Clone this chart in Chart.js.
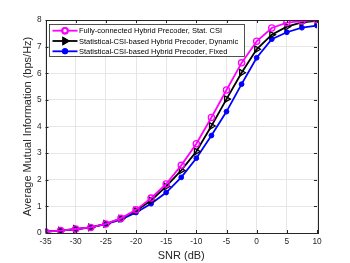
<!DOCTYPE html>
<html>
<head>
<meta charset="utf-8">
<script src="https://cdn.jsdelivr.net/npm/chart.js@4.4.1/dist/chart.umd.min.js"></script>
<style>
  html, body { margin: 0; padding: 0; background: #fff; }
  #myChart { display: block; }
</style>
</head>
<body>
<canvas id="myChart" width="350" height="263"></canvas>
<script>
const snr = [-35, -32.5, -30, -27.5, -25, -22.5, -20, -17.5, -15, -12.5, -10, -7.5, -5, -2.5, 0, 2.5, 5, 7.5, 10];
const fullyConnected = [0.05, 0.09, 0.15, 0.21, 0.34, 0.55, 0.87, 1.31, 1.84, 2.54, 3.35, 4.34, 5.37, 6.39, 7.20, 7.70, 7.90, 7.96, 8.00];
const statDynamic = [0.05, 0.09, 0.15, 0.21, 0.34, 0.54, 0.84, 1.22, 1.75, 2.35, 3.06, 4.02, 5.03, 6.02, 6.90, 7.45, 7.75, 7.91, 7.97];
const statFixed = [0.05, 0.09, 0.14, 0.21, 0.33, 0.50, 0.77, 1.10, 1.52, 2.09, 2.81, 3.66, 4.56, 5.59, 6.58, 7.28, 7.54, 7.71, 7.79];
const seriesLabels = [
    'Fully-connected Hybrid Precoder, Stat. CSI',
    'Statistical-CSI-based Hybrid Precoder, Dynamic',
    'Statistical-CSI-based Hybrid Precoder, Fixed'
];
const xTicks = [-35, -30, -25, -20, -15, -10, -5, 0, 5, 10];
const yTicks = [0, 1, 2, 3, 4, 5, 6, 7, 8];

const axisColor = '#262626';
const fontFamily = 'Liberation Sans, Arial, sans-serif';

function toPoints(values) {
    return snr.map((x, i) => ({ x: x, y: values[i] }));
}

// box around the axes + inward ticks, matlab style
const boxPlugin = {
    id: 'box',
    afterDraw(chart) {
        const ctx = chart.ctx;
        const a = chart.chartArea;
        const xs = chart.scales.x;
        const ys = chart.scales.y;
        ctx.save();
        ctx.strokeStyle = axisColor;
        ctx.lineWidth = 1;
        ctx.beginPath();
        xTicks.forEach(v => {
            const px = Math.round(xs.getPixelForValue(v)) + 0.5;
            ctx.moveTo(px, a.bottom); ctx.lineTo(px, a.bottom - 3);
            ctx.moveTo(px, a.top); ctx.lineTo(px, a.top + 3);
        });
        yTicks.forEach(v => {
            const py = Math.round(ys.getPixelForValue(v)) + 0.5;
            ctx.moveTo(a.left, py); ctx.lineTo(a.left + 3, py);
            ctx.moveTo(a.right, py); ctx.lineTo(a.right - 3, py);
        });
        ctx.stroke();
        ctx.strokeRect(Math.round(a.left) + 0.5, Math.round(a.top) + 0.5,
            Math.round(a.right - a.left), Math.round(a.bottom - a.top));
        ctx.restore();
    }
};

// legend drawn inside the plot, top left
const insideLegend = {
    id: 'insideLegend',
    afterDraw(chart) {
        const ctx = chart.ctx;
        const a = chart.chartArea;
        const bx = Math.round(a.left) + 3, by = Math.round(a.top) + 4;
        const bw = 195, rowH = 10.3;
        const bh = 32;
        ctx.save();
        ctx.fillStyle = '#fff';
        ctx.fillRect(bx, by, bw, bh);
        ctx.strokeStyle = axisColor;
        ctx.lineWidth = 0.8;
        ctx.strokeRect(bx + 0.5, by + 0.5, bw, bh);
        ctx.font = '7.5px ' + fontFamily;
        ctx.textBaseline = 'middle';
        chart.data.datasets.forEach((ds, i) => {
            const cy = by + 6.7 + i * rowH;
            ctx.strokeStyle = ds.borderColor;
            ctx.lineWidth = 1.8;
            ctx.beginPath();
            ctx.moveTo(bx + 3.5, cy);
            ctx.lineTo(bx + 28.5, cy);
            ctx.stroke();
            Chart.helpers.drawPoint(ctx, {
                pointStyle: ds.pointStyle,
                rotation: ds.pointRotation || 0,
                radius: ds.pointRadius * 0.9,
                borderWidth: ds.pointBorderWidth
            }, bx + 16, cy);
            ctx.strokeStyle = ds.pointBorderColor;
            ctx.fillStyle = ds.pointBackgroundColor;
            ctx.fill();
            ctx.stroke();
            ctx.fillStyle = '#000';
            ctx.fillText(ds.label, bx + 30, cy + 0.5);
        });
        ctx.restore();
    }
};

Chart.register(boxPlugin, insideLegend);

const canvasContext = document.getElementById('myChart').getContext('2d');
const config = {
    type: 'line',
    data: {
        datasets: [
            {
                label: seriesLabels[0],
                data: toPoints(fullyConnected),
                borderColor: '#ff00ff',
                borderWidth: 1.8,
                pointStyle: 'circle',
                pointRadius: 3.1,
                pointBorderWidth: 1.3,
                pointBorderColor: '#ff00ff',
                pointBackgroundColor: 'rgba(0,0,0,0)',
                tension: 0
            },
            {
                label: seriesLabels[1],
                data: toPoints(statDynamic),
                borderColor: '#000000',
                borderWidth: 1.8,
                pointStyle: 'triangle',
                pointRotation: 90,
                pointRadius: 3.8,
                pointBorderWidth: 1.3,
                pointBorderColor: '#000000',
                pointBackgroundColor: 'rgba(0,0,0,0)',
                tension: 0
            },
            {
                label: seriesLabels[2],
                data: toPoints(statFixed),
                borderColor: '#0000ff',
                borderWidth: 1.8,
                pointStyle: 'circle',
                pointRadius: 2.4,
                pointBorderWidth: 1,
                pointBorderColor: '#0000ff',
                pointBackgroundColor: '#0000ff',
                tension: 0
            }
        ]
    },
    options: {
        responsive: false,
        animation: false,
        layout: { padding: { top: 20, right: 33, left: 0, bottom: 0 } },
        plugins: {
            legend: { display: false },
            tooltip: { enabled: false }
        },
        scales: {
            x: {
                type: 'linear',
                min: -35,
                max: 10,
                afterBuildTicks: s => { s.ticks = xTicks.map(v => ({ value: v })); },
                afterFit: s => { s.height = 30; },
                border: { display: false },
                grid: { color: '#e6e6e6', drawTicks: false, lineWidth: 1 },
                ticks: {
                    padding: 4,
                    color: axisColor,
                    font: { family: fontFamily, size: 8.3 },
                    maxRotation: 0
                },
                title: {
                    display: true,
                    text: 'SNR (dB)',
                    color: axisColor,
                    font: { family: fontFamily, size: 11 },
                    padding: { top: 0, bottom: 0 }
                }
            },
            y: {
                type: 'linear',
                min: 0,
                max: 8,
                afterBuildTicks: s => { s.ticks = yTicks.map(v => ({ value: v })); },
                afterFit: s => { s.width = 45.5; },
                border: { display: false },
                grid: { color: '#e6e6e6', drawTicks: false, lineWidth: 1 },
                ticks: {
                    padding: 4,
                    color: axisColor,
                    font: { family: fontFamily, size: 8.3 }
                },
                title: {
                    display: true,
                    text: 'Average Mutual Information (bps/Hz)',
                    color: axisColor,
                    font: { family: fontFamily, size: 11 },
                    padding: { top: 21, bottom: 0 }
                }
            }
        }
    }
};
const myChart = new Chart(canvasContext, config);
</script>
</body>
</html>
